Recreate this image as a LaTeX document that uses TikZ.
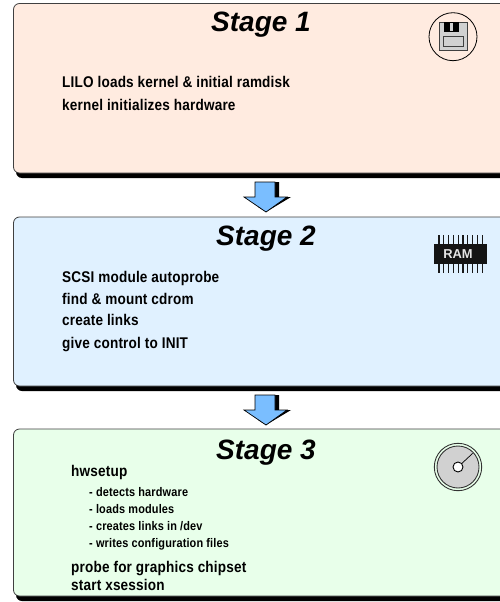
\documentclass[tikz,border=0pt]{standalone}
\usepackage{fontspec}
\setmainfont{Liberation Sans}
\newfontfamily\narrowbold[FakeStretch=0.875,LetterSpace=1.2]{Liberation Sans Bold}
\definecolor{peach}{RGB}{255,235,224}
\definecolor{skyb}{RGB}{224,241,255}
\definecolor{mint}{RGB}{232,255,234}
\definecolor{arrowb}{RGB}{122,190,255}
\tikzset{
  x=1pt,y=-1pt,
  stagebox/.style={draw=black!75,line width=0.8pt,rounded corners=6pt},
  stageshadow/.style={fill=black,rounded corners=6pt},
  stagetitle/.style={font=\fontsize{28}{28}\selectfont\bfseries\itshape,anchor=base,inner sep=0pt},
  bodytext/.style={font=\fontsize{15.5}{15.5}\narrowbold,anchor=base west,inner sep=0pt},
  subtext/.style={font=\fontsize{12.5}{12.5}\narrowbold,anchor=base west,inner sep=0pt},
  downarrow/.style={fill=arrowb,draw=black,line width=0.7pt,line join=miter},
  downshadow/.style={fill=black},
}
\newcommand{\stagepanel}[4]{%
  \fill[stageshadow] (16,#1+5) rectangle (515,#2+5);
  \filldraw[stagebox,fill=#3] (13.5,#1) rectangle (515,#2);
  \coordinate (#4) at (0,#1);
}
\newcommand{\blockarrow}[2]{%
  \fill[downshadow] (#1-8,#2) -- (#1+13,#2) -- (#1+13,#2+15) -- (#1+25,#2+15) -- (#1,#2+30) -- (#1-8,#2+25) -- cycle;
  \draw[downarrow] (#1-11,#2) -- (#1+9,#2) -- (#1+9,#2+15) -- (#1+21,#2+15) -- (#1,#2+30) -- (#1-22,#2+15) -- (#1-11,#2+15) -- cycle;
}
\begin{document}
\begin{tikzpicture}
\useasboundingbox (0,0) rectangle (500,602);
\fill[white] (0,0) rectangle (500,602);
\stagepanel{3.5}{173}{peach}{a}
\stagepanel{217}{386}{skyb}{b}
\stagepanel{429}{596}{mint}{c}
\blockarrow{266}{182}
\blockarrow{266}{395}

\node[stagetitle] (t1) at (261,32) {Stage 1};
\node[stagetitle] (t2) at (266,245) {Stage 2};
\node[stagetitle] (t3) at (266,459) {Stage 3};

\node[bodytext] (l1) at (62,88) {LILO loads kernel \& initial ramdisk};
\node[bodytext] (l2) at (62,110) {kernel initializes hardware};

\node[bodytext] (m1) at (62,282) {SCSI module autoprobe};
\node[bodytext] (m2) at (62,304) {find \& mount cdrom};
\node[bodytext] (m3) at (62,325) {create links};
\node[bodytext] (m4) at (62,348) {give control to INIT};

\node[bodytext] (n1) at (71,476) {hwsetup};
\node[subtext] (s1) at (89,496) {- detects hardware};
\node[subtext] (s2) at (89,513) {- loads modules};
\node[subtext] (s3) at (89,530) {- creates links in /dev};
\node[subtext] (s4) at (89,547) {- writes configuration files};
\node[bodytext] (n2) at (71,572) {probe for graphics chipset};
\node[bodytext] (n3) at (71,590.5) {start xsession};

% floppy icon
\draw[black,line width=0.8pt,fill=peach] (453,36.7) circle (24);
\fill[black!75] (439,22.5) rectangle (468,51);
\fill[black!18] (439.7,23.2) rectangle (467.3,50.3);
\fill[black] (443.7,22.5) rectangle (459.3,32.5);
\fill[black!18] (449.5,23) rectangle (453.3,31);
\filldraw[draw=black!75,fill=black!18,line width=0.7pt] (443.7,36.2) rectangle (463.3,46.7);

% RAM icon
\foreach \i in {0,...,9}{
  \draw[black!90,line width=1.2pt] (439+\i*4.8,235) -- (439+\i*4.8,273);
}
\fill[black!92] (434,244) rectangle (487,263.5);
\node[font=\fontsize{12.9}{12.9}\selectfont\bfseries,text=white!90!black,inner sep=0pt] (ram) at (458,254) {RAM};

% CD icon
\filldraw[draw=black!80,fill=mint,line width=0.9pt] (458,467) circle (23.7);
\filldraw[draw=black!80,fill=black!18,line width=0.9pt] (458,467) circle (21);
\draw[black,line width=0.7pt] (458,467) -- (472.7,453.3);
\filldraw[draw=black,fill=white,line width=0.9pt] (458,467) circle (5);
\end{tikzpicture}
\end{document}
